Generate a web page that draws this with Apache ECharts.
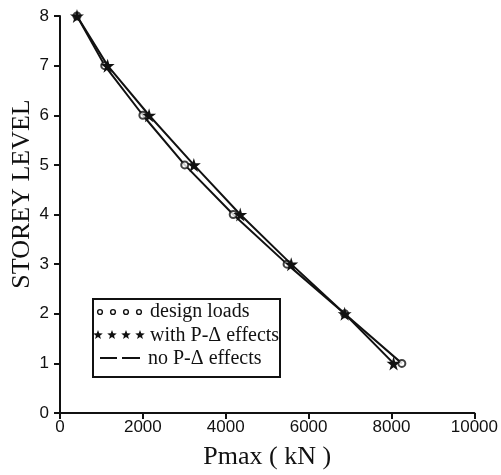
<!DOCTYPE html>
<html>
<head>
<meta charset="utf-8">
<script src="https://cdn.jsdelivr.net/npm/echarts@6/dist/echarts.min.js"></script>
<style>
    html, body { margin: 0; padding: 0; background: #fff; }
    #chart { width: 501px; height: 475px; }
</style>
</head>
<body>
<div id="chart"></div>
<script>
// storey levels and Pmax (kN)
const storeys = [8, 7, 6, 5, 4, 3, 2, 1];
const designLoads = [410, 1080, 2000, 3010, 4180, 5480, 6870, 8250];
const withPDelta = [410, 1150, 2150, 3230, 4350, 5580, 6870, 8050];
const xTicks = [0, 2000, 4000, 6000, 8000, 10000];

const starPath = 'path://M50,0 L61,35 L98,35 L68,57 L79,91 L50,70 L21,91 L32,57 L2,35 L39,35 Z';
const serif = '"Liberation Serif", "DejaVu Serif", serif';
const sans = '"Liberation Sans", sans-serif';

// small star outline for the legend
function starPoints(cx, cy, r) {
    const pts = [];
    for (let i = 0; i < 10; i++) {
        const a = -Math.PI / 2 + i * Math.PI / 5;
        const rr = i % 2 === 0 ? r : r * 0.42;
        pts.push([cx + rr * Math.cos(a), cy + rr * Math.sin(a)]);
    }
    return pts;
}

const chart = echarts.init(document.getElementById('chart'));

const pairs = (xs) => xs.map((v, i) => [v, storeys[i]]);

const option = {
    backgroundColor: '#fff',
    animation: false,
    grid: { left: 60, right: 26, top: 16, bottom: 60 },
    xAxis: {
        type: 'value',
        min: xTicks[0],
        max: xTicks[xTicks.length - 1],
        interval: 2000,
        name: 'Pmax ( kN )',
        nameLocation: 'middle',
        nameGap: 31,
        nameTextStyle: { fontFamily: serif, fontSize: 26, color: '#111' },
        axisLine: { lineStyle: { color: '#111', width: 2 } },
        axisTick: { length: 6, lineStyle: { color: '#111', width: 2 } },
        axisLabel: {
            fontFamily: sans, fontSize: 17, color: '#111', margin: 6,
            formatter: (v) => String(v)
        },
        splitLine: { show: false }
    },
    yAxis: {
        type: 'value',
        min: 0,
        max: 8,
        interval: 1,
        axisLine: { show: true, lineStyle: { color: '#111', width: 2 } },
        axisTick: { show: true, length: 6, lineStyle: { color: '#111', width: 2 } },
        axisLabel: { fontFamily: sans, fontSize: 17, color: '#111', margin: 11 },
        splitLine: { show: false }
    },
    series: [
        {
            name: 'no P-Δ effects',
            type: 'line',
            data: pairs(designLoads),
            showSymbol: false,
            lineStyle: { color: '#111', width: 2 },
            z: 2
        },
        {
            name: 'design loads',
            type: 'scatter',
            data: pairs(designLoads),
            symbol: 'emptyCircle',
            symbolSize: 7,
            itemStyle: { color: '#111', borderColor: '#111', borderWidth: 2 },
            z: 3
        },
        {
            name: 'with P-Δ effects',
            type: 'line',
            data: pairs(withPDelta),
            symbol: starPath,
            symbolSize: 14,
            showAllSymbol: true,
            itemStyle: { color: '#111' },
            lineStyle: { color: '#111', width: 2 },
            z: 4
        }
    ],
    graphic: [
        {
            type: 'text',
            x: 22,
            y: 194,
            rotation: Math.PI / 2,
            style: {
                text: 'STOREY LEVEL',
                font: '26px ' + serif,
                fill: '#111',
                align: 'center',
                verticalAlign: 'middle'
            }
        },
        {
            type: 'group',
            x: 93,
            y: 299,
            children: [
                {
                    type: 'rect',
                    shape: { x: 0, y: 0, width: 187, height: 78 },
                    style: { fill: '#fff', stroke: '#111', lineWidth: 2 }
                },
                // row 1: circles
                ...[7, 20, 33, 46].map(cx => ({
                    type: 'circle',
                    shape: { cx: cx, cy: 13, r: 2.4 },
                    style: { fill: 'none', stroke: '#111', lineWidth: 1.4 }
                })),
                {
                    type: 'text', x: 57, y: 13,
                    style: { text: 'design loads', font: '20px ' + serif, fill: '#111', verticalAlign: 'middle' }
                },
                // row 2: stars
                ...[5, 19, 33, 47].map(cx => ({
                    type: 'polygon',
                    shape: { points: starPoints(cx, 36, 5) },
                    style: { fill: '#111' }
                })),
                {
                    type: 'text', x: 57, y: 37,
                    style: { text: 'with P-Δ effects', font: '20px ' + serif, fill: '#111', verticalAlign: 'middle' }
                },
                // row 3: dashes
                {
                    type: 'line',
                    shape: { x1: 7, y1: 59, x2: 24, y2: 59 },
                    style: { stroke: '#111', lineWidth: 2 }
                },
                {
                    type: 'line',
                    shape: { x1: 29, y1: 59, x2: 47, y2: 59 },
                    style: { stroke: '#111', lineWidth: 2 }
                },
                {
                    type: 'text', x: 55, y: 60,
                    style: { text: 'no P-Δ effects', font: '20px ' + serif, fill: '#111', verticalAlign: 'middle' }
                }
            ]
        }
    ]
};

chart.setOption(option);
</script>
</body>
</html>
